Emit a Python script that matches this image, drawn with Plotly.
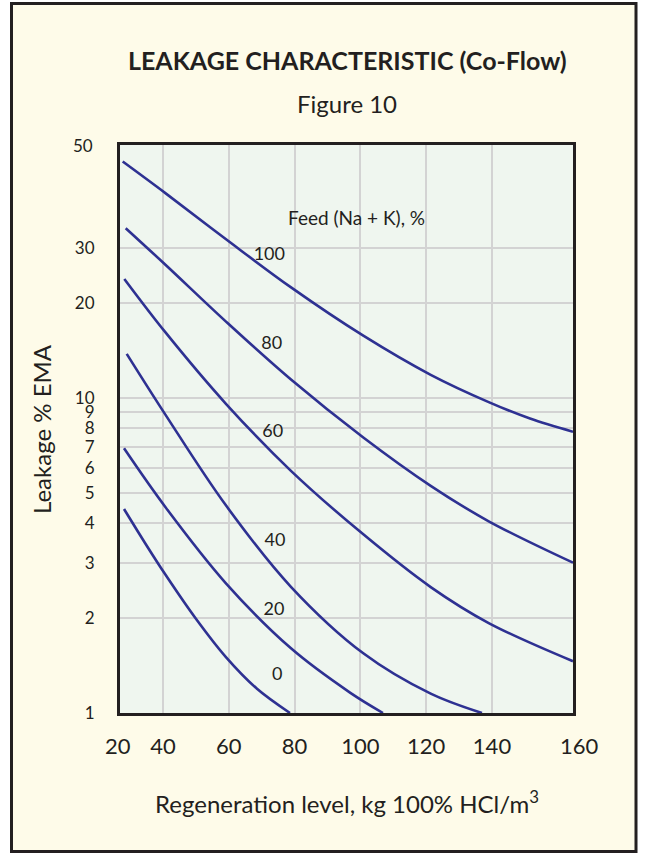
import numpy as np
import plotly.graph_objects as go

# ---- data (x in kg HCl/m3, y in % leakage) ----
feed_levels = ["100", "80", "60", "40", "20", "0"]

x_100 = [27.75, 40.82, 59.06, 78.81, 100.88, 121.37, 139.0, 151.55, 164.62]
y_100 = [56.27, 44.6, 31.95, 22.47, 15.76, 11.84, 9.70, 8.60, 7.81]

x_80 = [28.66, 40.82, 59.06, 78.81, 100.88, 121.37, 139.0, 164.62]
y_80 = [34.57, 26.42, 17.50, 11.46, 7.49, 5.26, 4.06, 3.00]

x_60 = [28.24, 40.82, 59.06, 78.81, 100.88, 121.37, 139.0, 164.62]
y_60 = [23.86, 16.11, 9.60, 5.88, 3.69, 2.51, 1.93, 1.46]

x_40 = [28.97, 40.82, 59.06, 78.81, 100.88, 121.37, 136.96]
y_40 = [13.80, 8.82, 4.57, 2.52, 1.547, 1.152, 1.0]

x_20 = [28.15, 40.82, 59.06, 78.81, 96.84, 106.87]
y_20 = [6.92, 4.49, 2.585, 1.607, 1.161, 1.0]

x_0 = [28.15, 34.53, 40.82, 49.73, 59.06, 68.48, 78.60]
y_0 = [4.44, 3.465, 2.74, 2.009, 1.507, 1.196, 1.0]

# curve label anchor positions (data units)
label_x = [72.31, 73.04, 73.34, 74.04, 73.74, 74.74]
label_y = [28.4, 14.8, 7.76, 3.50, 2.12, 1.32]

legend_title = "Feed (Na + K), %"
legend_title_x = 77.4
legend_title_y = 37.4

# axis scale as drawn by the reference's inner grid lines
x_range = [26.93, 164.62]
y_range_top = 63.5
x_ticks = [40, 60, 80, 100, 120, 140]
y_ticks = [1, 2, 3, 4, 5, 6, 7, 8, 9, 10, 20, 30]
# labels the reference prints at the frame edges
x_edge_labels = ["20", "160"]
y_edge_label = "50"

title_text = "<b>LEAKAGE CHARACTERISTIC (Co-Flow)</b>"
subtitle_text = "Figure 10"
x_title = "Regeneration level, kg 100% HCl/m<sup>3</sup>"
y_title = "Leakage % EMA"

# ---- figure ----
FONT = "Lato, 'Open Sans', sans-serif"
LINE = "#2e3192"
TXT = "#231f20"

series = [(x_100, y_100), (x_80, y_80), (x_60, y_60),
          (x_40, y_40), (x_20, y_20), (x_0, y_0)]

fig = go.Figure()
for name, (xs, ys) in zip(feed_levels, series):
    fig.add_trace(go.Scatter(
        x=xs, y=ys, mode="lines", name=name,
        line=dict(color=LINE, width=2.6, shape="spline", smoothing=1.0),
        showlegend=False))

fig.add_trace(go.Scatter(
    x=label_x, y=label_y, mode="text", text=feed_levels,
    textfont=dict(family=FONT, size=18, color=TXT),
    textposition="middle center", showlegend=False, hoverinfo="skip"))

fig.add_annotation(x=legend_title_x, y=np.log10(legend_title_y), xref="x", yref="y",
                   text=legend_title, showarrow=False, xanchor="left", yanchor="middle",
                   font=dict(family=FONT, size=19, color=TXT))

W, H = 647, 854
ml, mr, mt, mb = 120, 74, 145, 141
pw, ph = W - ml - mr, H - mt - mb

def px_x(p):
    return (p - ml) / pw

def px_y(p):
    return (H - mb - p) / ph

fig.add_annotation(x=px_x(347), y=px_y(60), xref="paper", yref="paper",
                   text=title_text, showarrow=False, xanchor="center", yanchor="middle",
                   font=dict(family=FONT, size=25, color=TXT))
fig.add_annotation(x=px_x(347), y=px_y(103), xref="paper", yref="paper",
                   text=subtitle_text, showarrow=False, xanchor="center", yanchor="middle",
                   font=dict(family=FONT, size=24, color=TXT))
fig.add_annotation(x=px_x(347), y=px_y(802), xref="paper", yref="paper",
                   text=x_title, showarrow=False, xanchor="center", yanchor="middle",
                   font=dict(family=FONT, size=24, color=TXT))
fig.add_annotation(x=px_x(41), y=0.5, xref="paper", yref="paper",
                   text=y_title, showarrow=False, xanchor="center", yanchor="middle",
                   textangle=-90, font=dict(family=FONT, size=24, color=TXT))

# edge labels as printed in the reference
for xp, t in zip([0, 1], x_edge_labels):
    fig.add_annotation(x=xp + (-0.004 if xp == 0 else 0.015), y=px_y(745),
                       xref="paper", yref="paper", text=t, showarrow=False,
                       xanchor="center", yanchor="middle",
                       font=dict(family=FONT, size=22, color=TXT))
fig.add_annotation(x=px_x(95), y=1.0, xref="paper", yref="paper", text=y_edge_label,
                   showarrow=False, xanchor="right", yanchor="middle",
                   font=dict(family=FONT, size=17, color=TXT))

# outer frame and plot fill
fig.add_shape(type="rect", xref="paper", yref="paper", layer="below",
              x0=px_x(11.5), x1=px_x(636), y0=px_y(851.5), y1=px_y(3.5),
              line=dict(color="#231f20", width=3), fillcolor="#fefbe9")
fig.add_shape(type="rect", xref="paper", yref="paper", layer="below",
              x0=0, x1=1, y0=0, y1=1, line=dict(width=0), fillcolor="#eff6ef")

fig.update_xaxes(
    type="linear", range=x_range, tickmode="array", tickvals=x_ticks,
    ticktext=[str(v) for v in x_ticks], showgrid=True, gridcolor="#d3d3d3", gridwidth=1.5,
    showline=True, linecolor="#231f20", linewidth=3, mirror=True, ticks="",
    ticklabelstandoff=12, tickfont=dict(family=FONT, size=22, color=TXT), zeroline=False)
fig.update_yaxes(
    type="log", range=[0, np.log10(y_range_top)], tickmode="array", tickvals=y_ticks,
    ticktext=[str(v) for v in y_ticks], showgrid=True, gridcolor="#d3d3d3", gridwidth=1.5,
    showline=True, linecolor="#231f20", linewidth=3, mirror=True, ticks="",
    ticklabelstandoff=19, tickfont=dict(family=FONT, size=17, color=TXT), zeroline=False)

fig.update_layout(
    width=W, height=H, margin=dict(l=ml, r=mr, t=mt, b=mb, pad=0),
    paper_bgcolor="white", plot_bgcolor="#eff6ef", showlegend=False)

fig.write_html("out.html")
